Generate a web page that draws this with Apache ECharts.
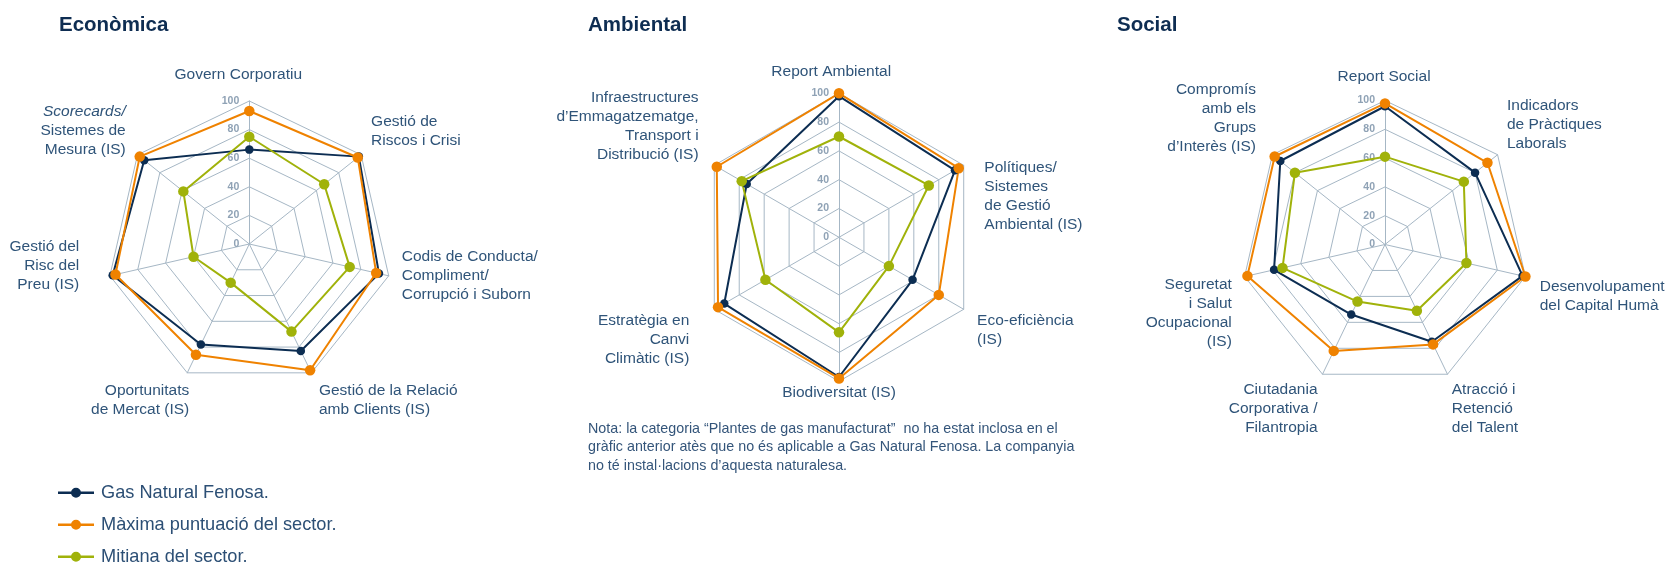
<!DOCTYPE html>
<html>
<head>
<meta charset="utf-8">
<script src="https://cdn.jsdelivr.net/npm/echarts@6/dist/echarts.min.js"></script>
<style>
  html, body { margin: 0; padding: 0; background: #fff; }
  #container { width: 1668px; height: 563px; }
</style>
</head>
<body>
<div id="container"></div>
<script>
const SERIES_NAMES = ['Gas Natural Fenosa.', 'Màxima puntuació del sector.', 'Mitiana del sector.'];
const AXIS_MIN = 0;
const AXIS_MAX = 100;
const AXIS_SPLITS = 5; // ticks 0, 20, 40, 60, 80, 100

// all category lists run clockwise starting at the top axis
const ECON_CATS = [
    'Govern Corporatiu',
    'Gestió de\nRiscos i Crisi',
    'Codis de Conducta/\nCompliment/\nCorrupció i Suborn',
    'Gestió de la Relació\namb Clients (IS)',
    'Oportunitats\nde Mercat (IS)',
    'Gestió del\nRisc del\nPreu (IS)',
    '{i|Scorecards/}\nSistemes de\nMesura (IS)'
];
const ECON_GNF = [66, 98, 93, 83, 78, 98, 94];
const ECON_MAX = [93, 97, 91, 98, 86, 96, 98];
const ECON_AVG = [75, 67, 72, 68, 30, 40, 59];

const AMB_CATS = [
    'Report Ambiental',
    'Polítiques/\nSistemes\nde Gestió\nAmbiental (IS)',
    'Eco-eficiència\n(IS)',
    'Biodiversitat (IS)',
    'Estratègia en\nCanvi\nClimàtic (IS)',
    'Infraestructures\nd’Emmagatzematge,\nTransport i\nDistribució (IS)'
];
const AMB_GNF = [98, 93, 59, 97, 92, 74];
const AMB_MAX = [100, 96, 80, 98, 97, 98];
const AMB_AVG = [70, 72, 40, 66, 59, 78];

const SOC_CATS = [
    'Report Social',
    'Indicadors\nde Pràctiques\nLaborals',
    'Desenvolupament\ndel Capital Humà',
    'Atracció i\nRetenció\ndel Talent',
    'Ciutadania\nCorporativa /\nFilantropia',
    'Seguretat\ni Salut\nOcupacional\n(IS)',
    'Compromís\namb els\nGrups\nd’Interès (IS)'
];
const SOC_GNF = [96, 80, 98, 75, 54, 79, 93];
const SOC_MAX = [98, 91, 100, 77, 82, 98, 98];
const SOC_AVG = [61, 70, 58, 51, 44, 73, 80];

const NOTE = 'Nota: la categoria “Plantes de gas manufacturat”  no ha estat inclosa en el\n' +
    'gràfic anterior atès que no és aplicable a Gas Natural Fenosa. La companyia\n' +
    'no té instal·lacions d’aquesta naturalesa.';

// styling
const FONT = '"Liberation Sans", Arial, sans-serif';
const COLORS = ['#0c2d52', '#ef8200', '#a0b20a'];
const SYMBOL_SIZES = [8.5, 10.5, 10.5];
const GRID_COLOR = '#a6b7c5';
const LABEL_COLOR = '#2f5479';

// axis name placement: [align, verticalAlign, padding]
const ECON_LAYOUT = [
    ['center', 'top', [-35.5, 22, 0, 0]],
    ['left', 'top', [-43, 0, 0, 10]],
    ['left', 'top', [-29, 0, 0, 13]],
    ['left', 'top', [8.7, 0, 0, 7.6]],
    ['right', 'top', [8.7, -2, 0, 0]],
    ['right', 'top', [-39, 30.6, 0, 0]],
    ['right', 'top', [-52.3, 11.8, 0, 0]]
];
const AMB_LAYOUT = [
    ['center', 'top', [-31.1, 15.6, 0, 0]],
    ['left', 'top', [-7.5, 0, 0, 20.6]],
    ['left', 'top', [2.2, 0, 0, 13.4]],
    ['center', 'top', [1.5, 0, 0, 0]],
    ['right', 'top', [2, 25, 0, 0]],
    ['right', 'top', [-77.3, 15.7, 0, 0]]
];
const SOC_LAYOUT = [
    ['center', 'top', [-33.3, 1.8, 0, 0]],
    ['left', 'top', [-58.5, 0, 0, 9.4]],
    ['left', 'top', [1, 0, 0, 14.3]],
    ['left', 'top', [6.3, 0, 0, 4.3]],
    ['right', 'top', [6.3, 5, 0, 0]],
    ['right', 'top', [-1.6, 12.8, 0, 0]],
    ['right', 'top', [-74, 16.4, 0, 0]]
];

const CHARTS = [
    { cats: ECON_CATS, layout: ECON_LAYOUT, center: [249.3, 244], radius: 143, values: [ECON_GNF, ECON_MAX, ECON_AVG] },
    { cats: AMB_CATS, layout: AMB_LAYOUT, center: [839, 237.3], radius: 144, values: [AMB_GNF, AMB_MAX, AMB_AVG] },
    { cats: SOC_CATS, layout: SOC_LAYOUT, center: [1385, 244.5], radius: 144, values: [SOC_GNF, SOC_MAX, SOC_AVG] }
];

// echarts lays radar indicators out anticlockwise, so keep the top one and flip the rest
function toRadarOrder(arr) {
    return [arr[0]].concat(arr.slice(1).reverse());
}

function makeRadar(c) {
    let indicator = c.cats.map(function (name, i) {
        return {
            name: name,
            min: AXIS_MIN,
            max: AXIS_MAX,
            nameMoveOverlap: false,
            nameTextStyle: {
                align: c.layout[i][0],
                verticalAlign: c.layout[i][1],
                padding: c.layout[i][2]
            },
            axisLabel: { show: i === 0 }
        };
    });
    return {
        center: c.center,
        radius: c.radius,
        shape: 'polygon',
        splitNumber: AXIS_SPLITS,
        axisNameGap: 0,
        indicator: toRadarOrder(indicator),
        axisName: {
            color: LABEL_COLOR,
            fontSize: 15.5,
            lineHeight: 19,
            fontFamily: FONT,
            rich: {
                i: { fontStyle: 'italic', color: LABEL_COLOR, fontSize: 15.5, lineHeight: 19, fontFamily: FONT }
            }
        },
        axisLine: { lineStyle: { color: GRID_COLOR, width: 1 } },
        splitLine: { lineStyle: { color: GRID_COLOR, width: 1 } },
        splitArea: { show: false },
        axisTick: { show: false },
        axisLabel: {
            show: false,
            color: '#8fa2b5',
            fontSize: 10.5,
            fontWeight: 'bold',
            fontFamily: FONT,
            margin: 10
        }
    };
}

let seriesInOption = [];
CHARTS.forEach(function (c, r) {
    c.values.forEach(function (vals, k) {
        seriesInOption.push({
            type: 'radar',
            radarIndex: r,
            name: SERIES_NAMES[k],
            symbol: 'circle',
            symbolSize: SYMBOL_SIZES[k],
            itemStyle: { color: COLORS[k] },
            lineStyle: { color: COLORS[k], width: 2 },
            data: [{ name: SERIES_NAMES[k], value: toRadarOrder(vals) }]
        });
    });
});

const titleStyle = { fontSize: 20.5, fontWeight: 'bold', color: '#0e2d52', fontFamily: FONT, lineHeight: 20.5 };

let dom = document.getElementById('container');
let myChart = echarts.init(dom, null, { renderer: 'canvas' });
let option = {
    animation: false,
    backgroundColor: '#ffffff',
    title: [
        { text: 'Econòmica', left: 59, top: 15.5, padding: 0, textStyle: titleStyle },
        { text: 'Ambiental', left: 588, top: 15.5, padding: 0, textStyle: titleStyle },
        { text: 'Social', left: 1117, top: 15.5, padding: 0, textStyle: titleStyle },
        {
            text: NOTE, left: 588, top: 420, padding: 0,
            textStyle: { fontSize: 14.3, lineHeight: 18.3, fontWeight: 'normal', color: '#34557a', fontFamily: FONT }
        }
    ],
    legend: {
        orient: 'vertical',
        left: 58,
        top: 483.7,
        height: 150,
        padding: 0,
        itemWidth: 36,
        itemHeight: 10,
        itemGap: 14,
        selectedMode: false,
        icon: 'path://M0,4.75H36V7.25H0Z M13,6A5,5,0,1,1,23,6A5,5,0,1,1,13,6Z',
        data: SERIES_NAMES,
        textStyle: { fontSize: 18.2, lineHeight: 14, color: '#2c4f75', fontFamily: FONT, padding: [0, 0, 0, 2] }
    },
    radar: CHARTS.map(makeRadar),
    series: seriesInOption
};
myChart.setOption(option);
window.addEventListener('resize', function () {
    myChart.resize();
});
</script>
</body>
</html>
